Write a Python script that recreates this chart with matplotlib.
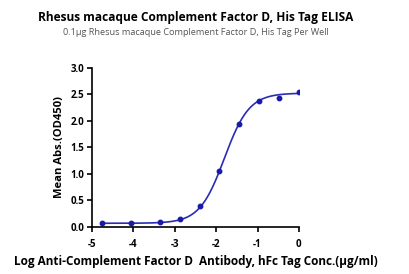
import numpy as np
import matplotlib
matplotlib.use("Agg")
import matplotlib.pyplot as plt

plt.rcParams['font.family'] = ['Open Sans', 'DejaVu Sans']

# log concentration (ug/ml) and mean OD450
log_conc = [-4.75, -4.05, -3.35, -2.88, -2.40, -1.92, -1.44, -0.96, -0.48, 0.0]
od450 = [0.064, 0.075, 0.094, 0.15, 0.385, 1.045, 1.94, 2.37, 2.43, 2.54]

# 4PL fit parameters
fit_bottom = 0.065
fit_top = 2.52
fit_logec50 = -1.80
fit_hill = 1.45

x_ticks = [-5, -4, -3, -2, -1, 0]
y_ticks = [0.0, 0.5, 1.0, 1.5, 2.0, 2.5, 3.0]

blue = '#2b2bb5'

fig = plt.figure(figsize=(4.1, 2.74), dpi=100)
ax = fig.add_axes([0.2244, 0.1726, 0.5046, 0.5804])

xs = np.linspace(min(log_conc), max(log_conc), 300)
ys = fit_bottom + (fit_top - fit_bottom) / (1 + 10 ** ((fit_logec50 - xs) * fit_hill))
ax.plot(xs, ys, color=blue, lw=1.2)
ax.plot(log_conc, od450, 'o', color='#1a1aa8', ms=3.2)

ax.set_xlim(-5, 0)
ax.set_ylim(0, 3)
ax.set_xticks(x_ticks)
ax.set_yticks(y_ticks)
ax.set_xticklabels([str(t) for t in x_ticks])
ax.set_yticklabels(['%.1f' % t for t in y_ticks])
for s in ['top', 'right']:
    ax.spines[s].set_visible(False)
for s in ['left', 'bottom']:
    ax.spines[s].set_linewidth(1.2)
ax.tick_params(width=1.2, length=3.5, labelsize=7, pad=2)
for lab in ax.get_xticklabels() + ax.get_yticklabels():
    lab.set_fontweight('bold')
ax.get_xaxis().set_tick_params(pad=5)

ax.set_ylabel('Mean Abs.(OD450)', fontsize=8.1, fontweight='bold', labelpad=4)
ax.set_xlabel('Log Anti-Complement Factor D  Antibody, hFc Tag Conc.(\u03bcg/ml)',
              fontsize=8.5, fontweight='bold', labelpad=4)

fig.text(0.478, 0.937, 'Rhesus macaque Complement Factor D, His Tag ELISA',
         ha='center', va='center', fontsize=8.6, fontweight='bold')
fig.text(0.478, 0.882, '0.1\u03bcg Rhesus macaque Complement Factor D, His Tag Per Well',
         ha='center', va='center', fontsize=6.6, color='#555555')

fig.savefig('out.png', dpi=100)
